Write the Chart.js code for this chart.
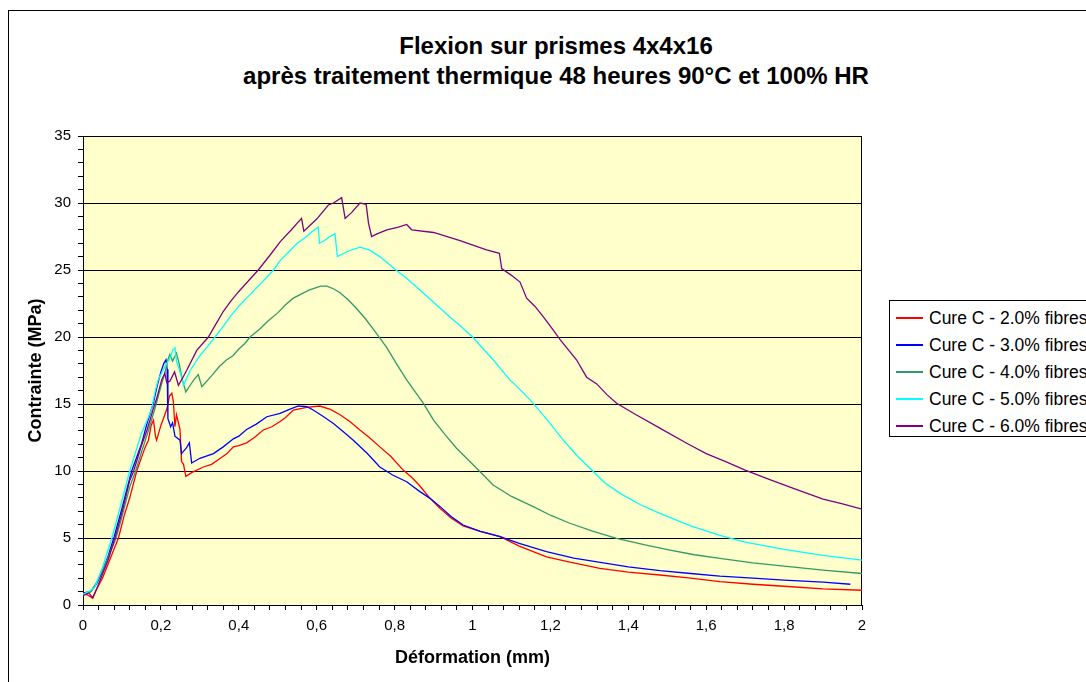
<!DOCTYPE html>
<html>
<head>
<meta charset="utf-8">
<title>Flexion sur prismes 4x4x16</title>
<script src="https://cdn.jsdelivr.net/npm/chart.js@4.4.0/dist/chart.umd.min.js"></script>
<style>
  html, body { margin: 0; padding: 0; background: #fff; width: 1086px; height: 682px; overflow: hidden; }
  #frame { position: absolute; left: 8px; top: 10px; width: 1200px; height: 800px; border: 1px solid #000; }
  #title { position: absolute; left: 0; top: 31px; width: 1112px; text-align: center;
           font: bold 24px "Liberation Sans", Arial, sans-serif; line-height: 30px; color: #000; }
  #chart { position: absolute; left: 0; top: 0; }
  #legend { position: absolute; left: 889px; top: 300px; width: 240px; height: 135px;
            border: 1px solid #000; background: #fff; font: 17.5px "Liberation Sans", Arial, sans-serif; }
  .item { position: absolute; left: 0; height: 20px; white-space: nowrap; }
  .item span.line { position: absolute; left: 6px; top: 9px; width: 27px; height: 2px; }
  .item span.label { position: absolute; left: 39px; top: 0; line-height: 20px; }
</style>
</head>
<body>
<div id="frame"></div>
<div id="title">Flexion sur prismes 4x4x16<br>après traitement thermique 48 heures 90°C et 100% HR</div>
<canvas id="chart" width="1086" height="682"></canvas>
<div id="legend"></div>
<script>
// Déformation (mm), Contrainte (MPa)
const cure2 = [
  [0, 0.9], [0.015, 0.7], [0.025, 0.5], [0.035, 1.2], [0.05, 2.0], [0.065, 3.1], [0.08, 4.2],
  [0.091, 5.0], [0.105, 6.6], [0.12, 8.0], [0.138, 10.0], [0.15, 11.0], [0.16, 11.8], [0.168, 12.3],
  [0.175, 13.4], [0.181, 13.8], [0.186, 12.6], [0.189, 12.3], [0.2, 13.4], [0.21, 14.2], [0.216, 14.7],
  [0.222, 15.6], [0.228, 15.8], [0.232, 15.2], [0.236, 13.3], [0.24, 14.2], [0.245, 13.6], [0.249, 13.1],
  [0.253, 10.7], [0.258, 10.5], [0.264, 9.6], [0.28, 9.9], [0.309, 10.3], [0.33, 10.5], [0.35, 10.9],
  [0.37, 11.3], [0.386, 11.8], [0.4, 11.9], [0.42, 12.1], [0.44, 12.5], [0.463, 13.06], [0.485, 13.3],
  [0.506, 13.7], [0.52, 14.0], [0.54, 14.55], [0.574, 14.75], [0.608, 14.85], [0.635, 14.6],
  [0.66, 14.2], [0.685, 13.7], [0.711, 13.06], [0.735, 12.5], [0.762, 11.8], [0.79, 11.1],
  [0.822, 10.07], [0.845, 9.5], [0.865, 8.88], [0.891, 7.96], [0.917, 7.2], [0.945, 6.5],
  [0.976, 5.9], [1.02, 5.5], [1.071, 5.1], [1.12, 4.4], [1.19, 3.6], [1.25, 3.2], [1.327, 2.74],
  [1.4, 2.45], [1.481, 2.24], [1.56, 2.0], [1.635, 1.74], [1.72, 1.55], [1.8, 1.4], [1.9, 1.2],
  [2.0, 1.1]
];
const cure3 = [
  [0, 0.9], [0.02, 1.0], [0.035, 1.6], [0.05, 2.5], [0.065, 3.7], [0.08, 5.1], [0.1, 7.2],
  [0.115, 8.9], [0.125, 10.0], [0.14, 11.2], [0.15, 12.0], [0.165, 13.6], [0.18, 15.0], [0.19, 16.3],
  [0.2, 17.4], [0.207, 18.0], [0.213, 18.3], [0.216, 17.6], [0.218, 13.9], [0.225, 13.3], [0.23, 13.6],
  [0.236, 12.6], [0.249, 12.3], [0.253, 11.3], [0.265, 11.7], [0.273, 12.1], [0.279, 10.6],
  [0.3, 10.95], [0.335, 11.3], [0.36, 11.8], [0.386, 12.4], [0.4, 12.6], [0.42, 13.1], [0.445, 13.5],
  [0.472, 14.05], [0.506, 14.3], [0.53, 14.6], [0.553, 14.85], [0.575, 14.8], [0.591, 14.55],
  [0.615, 14.1], [0.643, 13.55], [0.67, 12.9], [0.694, 12.3], [0.73, 11.3], [0.762, 10.3],
  [0.795, 9.7], [0.831, 9.2], [0.865, 8.46], [0.891, 7.96], [0.917, 7.34], [0.945, 6.6],
  [0.976, 5.97], [1.02, 5.5], [1.071, 5.1], [1.12, 4.6], [1.19, 3.98], [1.26, 3.5], [1.344, 3.11],
  [1.4, 2.85], [1.481, 2.56], [1.56, 2.35], [1.635, 2.16], [1.72, 2.0], [1.8, 1.85], [1.9, 1.7],
  [1.97, 1.55]
];
const cure4 = [
  [0, 0.8], [0.02, 1.0], [0.035, 1.7], [0.05, 2.6], [0.065, 3.6], [0.085, 5.0], [0.1, 6.6],
  [0.12, 8.8], [0.135, 10.0], [0.15, 11.4], [0.17, 13.2], [0.185, 14.7], [0.2, 16.3], [0.21, 17.3],
  [0.218, 18.3], [0.223, 18.7], [0.23, 18.2], [0.24, 18.8], [0.247, 18.0], [0.255, 16.8],
  [0.264, 15.9], [0.275, 16.4], [0.287, 16.9], [0.296, 17.2], [0.305, 16.3], [0.33, 17.1],
  [0.35, 17.8], [0.369, 18.3], [0.385, 18.6], [0.4, 19.1], [0.415, 19.5], [0.429, 20.0],
  [0.454, 20.6], [0.475, 21.2], [0.5, 21.8], [0.52, 22.4], [0.54, 22.9], [0.56, 23.2], [0.58, 23.5],
  [0.61, 23.8], [0.626, 23.8], [0.643, 23.6], [0.66, 23.3], [0.68, 22.8], [0.7, 22.2], [0.724, 21.4],
  [0.75, 20.4], [0.78, 19.2], [0.805, 18.0], [0.831, 16.8], [0.874, 15.05], [0.9, 13.8],
  [0.93, 12.7], [0.959, 11.7], [0.99, 10.8], [1.015, 10.07], [1.053, 8.96], [1.1, 8.1],
  [1.156, 7.34], [1.2, 6.7], [1.25, 6.1], [1.31, 5.5], [1.37, 4.98], [1.44, 4.5], [1.507, 4.1],
  [1.57, 3.75], [1.635, 3.48], [1.72, 3.15], [1.8, 2.9], [1.9, 2.6], [2.0, 2.35]
];
const cure5 = [
  [0, 0.8], [0.015, 1.0], [0.03, 1.3], [0.05, 2.8], [0.074, 5.0], [0.09, 6.7], [0.1, 7.8],
  [0.12, 10.0], [0.135, 11.4], [0.15, 12.8], [0.165, 13.8], [0.176, 14.6], [0.185, 15.9],
  [0.193, 16.8], [0.21, 17.8], [0.225, 18.5], [0.23, 19.0], [0.236, 19.2], [0.24, 18.2],
  [0.248, 17.5], [0.258, 16.4], [0.275, 17.5], [0.3, 18.6], [0.32, 19.3], [0.339, 20.0],
  [0.36, 20.8], [0.38, 21.6], [0.4, 22.3], [0.42, 22.9], [0.45, 23.8], [0.47, 24.4], [0.489, 25.0],
  [0.506, 25.7], [0.53, 26.4], [0.55, 27.0], [0.57, 27.4], [0.585, 27.8], [0.604, 28.2],
  [0.607, 27.0], [0.62, 27.2], [0.634, 27.5], [0.647, 27.7], [0.653, 26.0], [0.68, 26.4],
  [0.711, 26.7], [0.735, 26.5], [0.762, 26.0], [0.801, 25.05], [0.83, 24.4], [0.865, 23.5],
  [0.9, 22.6], [0.942, 21.5], [0.97, 20.8], [1.0, 20.0], [1.025, 19.2], [1.053, 18.3], [1.096, 16.8],
  [1.125, 16.0], [1.156, 15.05], [1.195, 13.7], [1.233, 12.3], [1.27, 11.1], [1.306, 10.07],
  [1.34, 9.1], [1.379, 8.33], [1.43, 7.5], [1.481, 6.84], [1.56, 5.9], [1.635, 5.2], [1.7, 4.7],
  [1.8, 4.15], [1.9, 3.7], [2.0, 3.35]
];
const cure6 = [
  [0, 0.7], [0.015, 0.9], [0.025, 0.55], [0.035, 1.2], [0.05, 2.3], [0.065, 3.4], [0.082, 5.0],
  [0.1, 6.9], [0.12, 9.3], [0.13, 10.0], [0.15, 11.9], [0.165, 13.1], [0.18, 14.6], [0.19, 15.5],
  [0.202, 16.8], [0.21, 17.3], [0.215, 16.6], [0.223, 16.7], [0.235, 17.4], [0.245, 16.4],
  [0.255, 16.9], [0.266, 17.5], [0.292, 19.0], [0.322, 20.0], [0.34, 20.9], [0.36, 21.9],
  [0.38, 22.7], [0.4, 23.4], [0.425, 24.2], [0.45, 25.0], [0.48, 26.1], [0.506, 27.1], [0.535, 28.0],
  [0.561, 28.85], [0.567, 27.9], [0.6, 28.8], [0.63, 29.85], [0.643, 30.0], [0.664, 30.4],
  [0.673, 28.85], [0.69, 29.3], [0.711, 30.0], [0.727, 29.9], [0.733, 28.5], [0.741, 27.5],
  [0.755, 27.7], [0.78, 28.0], [0.81, 28.2], [0.831, 28.4], [0.844, 28.0], [0.9, 27.8],
  [0.968, 27.2], [1.036, 26.5], [1.069, 26.25], [1.075, 25.1], [1.1, 24.6], [1.122, 24.1],
  [1.139, 22.9], [1.16, 22.3], [1.182, 21.5], [1.205, 20.6], [1.225, 19.8], [1.267, 18.3],
  [1.293, 17.0], [1.319, 16.5], [1.345, 15.7], [1.37, 15.05], [1.42, 14.2], [1.481, 13.2],
  [1.55, 12.07], [1.6, 11.3], [1.65, 10.7], [1.7, 10.07], [1.76, 9.4], [1.824, 8.7], [1.9, 7.9],
  [1.95, 7.55], [2.0, 7.16]
];

const seriesNames = ['Cure C - 2.0% fibres', 'Cure C - 3.0% fibres', 'Cure C - 4.0% fibres',
                     'Cure C - 5.0% fibres', 'Cure C - 6.0% fibres'];
const seriesData = [cure2, cure3, cure4, cure5, cure6];
const seriesColors = ['#FF0000', '#0000FF', '#339966', '#00FFFF', '#800080'];

const font = '"Liberation Sans", Arial, sans-serif';

// yellow plot area + frame
const plotArea = {
  id: 'plotArea',
  beforeDraw(chart) {
    const { ctx, chartArea: a } = chart;
    ctx.save();
    ctx.fillStyle = '#FFFFCC';
    ctx.fillRect(a.left, a.top, a.right - a.left, a.bottom - a.top);
    ctx.restore();
  },
  beforeDatasetsDraw(chart) {
    const { ctx, chartArea: a } = chart;
    ctx.save();
    ctx.strokeStyle = '#000';
    ctx.lineWidth = 1;
    ctx.strokeRect(a.left + 0.5, a.top + 0.5, a.right - a.left - 1, a.bottom - a.top);
    ctx.restore();
  }
};

const ctx = document.getElementById('chart').getContext('2d');
const chart = new Chart(ctx, {
  type: 'line',
  data: {
    datasets: seriesData.map((d, i) => ({
      label: seriesNames[i],
      data: d.map(p => ({ x: p[0], y: p[1] })),
      borderColor: seriesColors[i],
      borderWidth: 1.3,
      pointRadius: 0,
      fill: false,
      tension: 0,
      order: seriesData.length - i
    }))
  },
  options: {
    responsive: false,
    animation: false,
    layout: { padding: { left: 0, right: 224, top: 136, bottom: 0 } },
    plugins: {
      legend: { display: false },
      tooltip: { enabled: false }
    },
    scales: {
      x: {
        type: 'linear',
        min: 0,
        max: 2,
        afterFit(scale) { scale.height = 77; },
        grid: {
          color: 'rgba(0,0,0,0)',
          tickColor: '#000',
          tickLength: 5,
          drawOnChartArea: false
        },
        border: { color: '#000' },
        ticks: {
          stepSize: 0.04,
          autoSkip: false,
          maxRotation: 0,
          padding: 7,
          color: '#000',
          font: { family: font, size: 15 },
          callback(v) {
            const k = v * 5;
            if (Math.abs(k - Math.round(k)) > 1e-6) return '';
            return String(Math.round(v * 10) / 10).replace('.', ',');
          }
        },
        title: {
          display: true,
          text: 'Déformation (mm)',
          color: '#000',
          font: { family: font, size: 18, weight: 'bold' },
          padding: { top: 0, bottom: 13 }
        }
      },
      y: {
        min: 0,
        max: 35,
        afterFit(scale) { scale.width = 83; },
        grid: {
          color: c => (c.tick && c.tick.value % 5 === 0) ? '#000' : 'rgba(0,0,0,0)',
          tickColor: '#000',
          tickLength: 5
        },
        border: { color: '#000' },
        ticks: {
          stepSize: 1,
          autoSkip: false,
          padding: 7,
          color: '#000',
          font: { family: font, size: 15 },
          callback(v) { return v % 5 === 0 ? String(v) : ''; }
        },
        title: {
          display: true,
          text: 'Contrainte (MPa)',
          color: '#000',
          font: { family: font, size: 18, weight: 'bold' },
          padding: { top: 25, bottom: 0 }
        }
      }
    }
  },
  plugins: [plotArea]
});

// legend box, as in the spreadsheet chart
const legend = document.getElementById('legend');
seriesNames.forEach((name, i) => {
  const row = document.createElement('div');
  row.className = 'item';
  row.style.top = (7 + i * 27) + 'px';
  row.innerHTML = '<span class="line" style="background:' + seriesColors[i] + '"></span>' +
                  '<span class="label">' + name + '</span>';
  legend.appendChild(row);
});
</script>
</body>
</html>
